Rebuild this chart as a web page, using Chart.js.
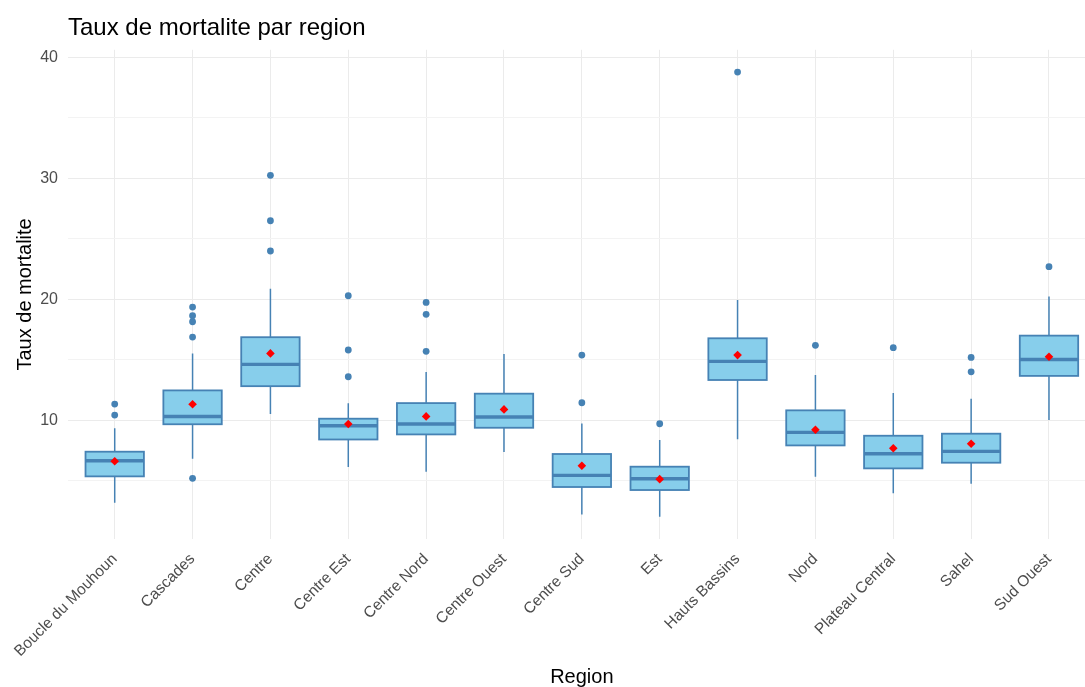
<!DOCTYPE html>
<html>
<head>
<meta charset="utf-8">
<title>Taux de mortalite par region</title>
<script src="https://cdn.jsdelivr.net/npm/chart.js@4"></script>
<style>
  html, body { margin: 0; padding: 0; background: #fff; overflow: hidden; }
  #wrap { position: relative; width: 1100px; height: 687px; }
</style>
</head>
<body>
<div id="wrap"><canvas id="chart"></canvas></div>
<script>
// regions and the box statistics of each one
var regions = ["Boucle du Mouhoun", "Cascades", "Centre", "Centre Est", "Centre Nord", "Centre Ouest",
               "Centre Sud", "Est", "Hauts Bassins", "Nord", "Plateau Central", "Sahel", "Sud Ouest"];
var lowerWhisker = [3.17, 6.81, 10.50, 6.12, 5.73, 7.36, 2.20, 2.01, 8.41, 5.32, 3.95, 4.74, 10.01];
var q1           = [5.35, 9.66, 12.81, 8.40, 8.82, 9.37, 4.47, 4.22, 13.32, 7.91, 6.01, 6.48, 13.66];
var medians      = [6.64, 10.30, 14.61, 9.54, 9.68, 10.26, 5.43, 5.15, 14.86, 8.99, 7.22, 7.42, 15.02];
var q3           = [7.39, 12.46, 16.86, 10.12, 11.41, 12.19, 7.20, 6.15, 16.77, 10.81, 8.71, 8.88, 16.99];
var upperWhisker = [9.32, 15.52, 20.86, 11.39, 13.98, 15.47, 9.73, 8.35, 19.93, 13.73, 12.24, 11.77, 20.22];
var means        = [6.60, 11.31, 15.52, 9.68, 10.31, 10.89, 6.23, 5.12, 15.38, 9.21, 7.67, 8.05, 15.24];
var outliers = [
  [10.42, 11.33],
  [5.19, 16.87, 18.14, 18.64, 19.35],
  [23.99, 26.49, 30.25],
  [13.59, 15.80, 20.29],
  [15.69, 18.75, 19.74],
  [],
  [11.44, 15.38],
  [9.70],
  [38.79],
  [16.19],
  [15.99],
  [14.00, 15.19],
  [22.69]
];
var yTicks = [5, 10, 15, 20, 25, 30, 35, 40];

var fontFamily = "'Liberation Sans', Arial, sans-serif";
var boxFill = '#87CEEB';
var boxLine = '#4682B4';

var outlierPoints = [];
outliers.forEach(function (vals, i) {
  vals.forEach(function (v) { outlierPoints.push({ x: i, y: v }); });
});
var meanPoints = means.map(function (v, i) { return { x: i, y: v }; });

// boxes, whiskers and medians, drawn under the point datasets
var boxPlugin = {
  id: 'boxes',
  beforeDatasetsDraw: function (chart) {
    var ctx = chart.ctx, xs = chart.scales.x, ys = chart.scales.y;
    ctx.save();
    regions.forEach(function (r, i) {
      var xc = xs.getPixelForValue(i);
      var half = xs.getPixelForValue(i + 0.375) - xc;
      var yLo = ys.getPixelForValue(lowerWhisker[i]);
      var yHi = ys.getPixelForValue(upperWhisker[i]);
      var yQ1 = ys.getPixelForValue(q1[i]);
      var yQ3 = ys.getPixelForValue(q3[i]);
      var yMed = ys.getPixelForValue(medians[i]);

      ctx.strokeStyle = boxLine;
      ctx.lineWidth = 1.5;
      ctx.beginPath();
      ctx.moveTo(xc, yHi); ctx.lineTo(xc, yQ3);
      ctx.moveTo(xc, yQ1); ctx.lineTo(xc, yLo);
      ctx.stroke();

      ctx.fillStyle = boxFill;
      ctx.fillRect(xc - half, yQ3, 2 * half, yQ1 - yQ3);
      ctx.lineWidth = 1.8;
      ctx.strokeRect(xc - half, yQ3, 2 * half, yQ1 - yQ3);

      ctx.lineWidth = 3.4;
      ctx.beginPath();
      ctx.moveTo(xc - half, yMed); ctx.lineTo(xc + half, yMed);
      ctx.stroke();
    });
    ctx.restore();
  }
};

new Chart(document.getElementById('chart'), {
  type: 'scatter',
  data: {
    datasets: [
      {
        label: 'outliers',
        data: outlierPoints,
        pointStyle: 'circle',
        pointRadius: 3.4,
        backgroundColor: boxLine,
        borderColor: boxLine,
        borderWidth: 0
      },
      {
        label: 'moyenne',
        data: meanPoints,
        pointStyle: 'rectRot',
        pointRadius: 4.3,
        backgroundColor: '#FF0000',
        borderColor: '#FF0000',
        borderWidth: 0
      }
    ]
  },
  options: {
    responsive: true,
    maintainAspectRatio: false,
    animation: false,
    layout: { padding: { left: 0, right: 1, top: 0, bottom: 0 } },
    plugins: {
      legend: { display: false },
      tooltip: { enabled: false },
      title: {
        display: true,
        text: 'Taux de mortalite par region',
        align: 'start',
        fullSize: false,
        color: '#000000',
        font: { family: fontFamily, size: 24, weight: 'normal' },
        padding: { top: 14, bottom: 7 }
      }
    },
    scales: {
      x: {
        type: 'linear',
        min: -0.6,
        max: 12.6,
        afterBuildTicks: function (s) {
          s.ticks = regions.map(function (r, i) { return { value: i }; });
        },
        afterFit: function (s) { s.height = 148; },
        border: { display: false },
        grid: { color: '#EBEBEB', lineWidth: 1, drawTicks: false },
        ticks: {
          autoSkip: false,
          maxRotation: 45,
          minRotation: 45,
          padding: 11,
          color: '#4D4D4D',
          font: { family: fontFamily, size: 15.5 },
          callback: function (v) { return regions[v]; }
        },
        title: {
          display: true,
          text: 'Region',
          color: '#000000',
          font: { family: fontFamily, size: 20, lineHeight: 1.0 },
          padding: { top: 0, bottom: 0 }
        }
      },
      y: {
        type: 'linear',
        min: 0.17,
        max: 40.63,
        afterBuildTicks: function (s) {
          s.ticks = yTicks.map(function (v) { return { value: v }; });
        },
        afterFit: function (s) { s.width = 68; },
        border: { display: false },
        grid: {
          drawTicks: false,
          lineWidth: 1,
          color: function (c) { return c.tick && c.tick.value % 10 === 0 ? '#EBEBEB' : '#F3F3F3'; }
        },
        ticks: {
          padding: 10,
          color: '#4D4D4D',
          font: { family: fontFamily, size: 16 },
          callback: function (v) { return v % 10 === 0 ? String(v) : ''; }
        },
        title: {
          display: true,
          text: 'Taux de mortalite',
          color: '#000000',
          font: { family: fontFamily, size: 20 },
          padding: { top: 13, bottom: 0 }
        }
      }
    }
  },
  plugins: [boxPlugin]
});
</script>
</body>
</html>
